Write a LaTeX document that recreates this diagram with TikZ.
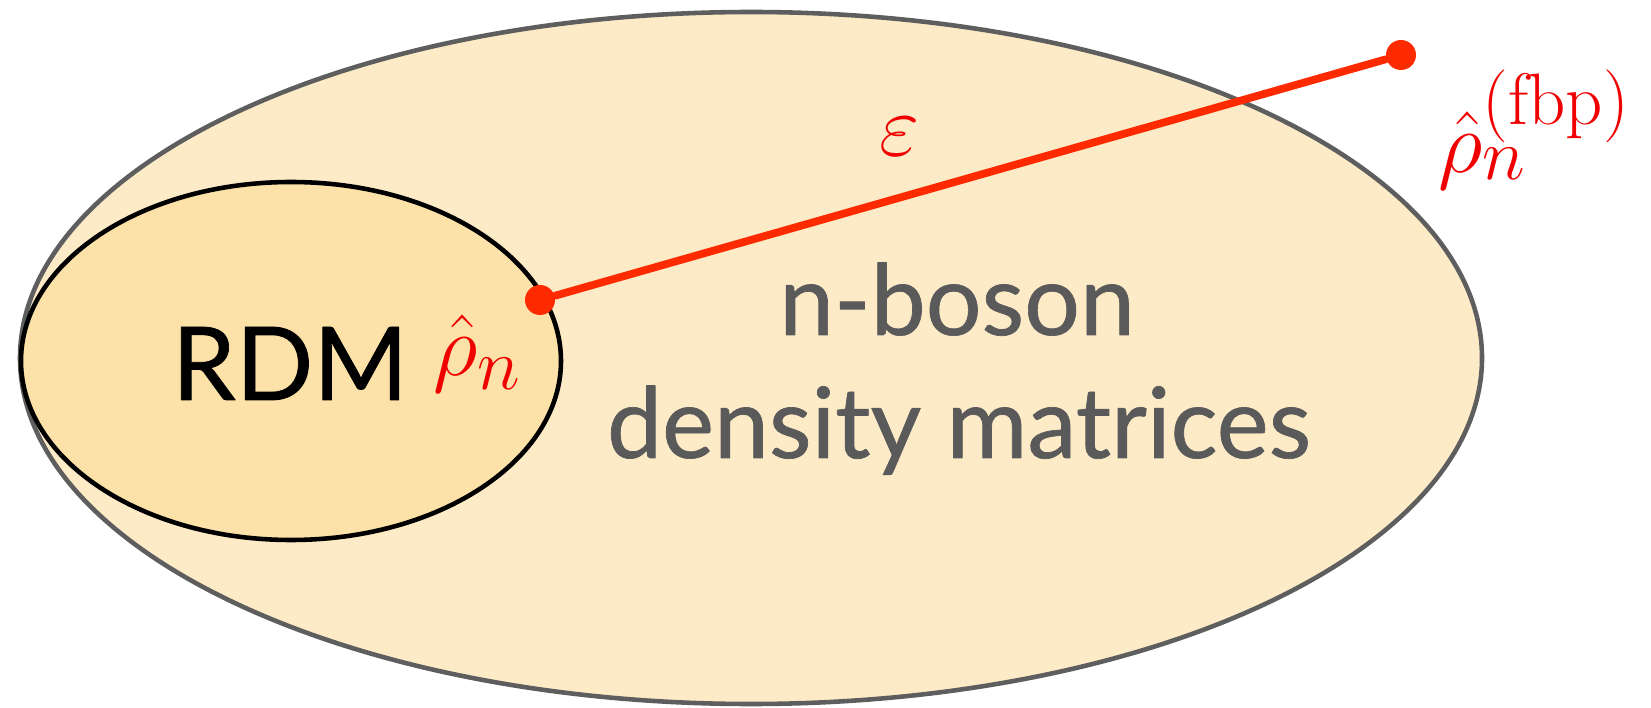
\documentclass[tikz,border=0pt]{standalone}
\usepackage[no-math]{fontspec}
\setmainfont{Lato}
\newfontfamily\setfont[FakeBold=0.7]{Lato}
\usetikzlibrary{calc,positioning}
\definecolor{setfill}{HTML}{FDEBC8}
\definecolor{setdraw}{HTML}{5E5E5E}
\definecolor{rdmfill}{HTML}{FCE2A8}
\definecolor{pathred}{HTML}{FF2A00}
\definecolor{mathred}{HTML}{F00000}
\definecolor{labelgray}{HTML}{5A5A5A}
\tikzset{
  outerset/.style={fill=setfill, draw=setdraw, line width=1.3pt},
  innerset/.style={fill=rdmfill, draw=black, line width=1.3pt},
  distline/.style={pathred, line width=2.2pt},
  statedot/.style={circle, fill=pathred, inner sep=0pt, minimum size=0.30cm},
  setlabel/.style={inner sep=0pt, font=\setfont\fontsize{28}{33}\selectfont, text=labelgray},
  mathlabel/.style={inner sep=0pt, text=mathred, font=\fontsize{30}{35}\selectfont},
}
\begin{document}
\begin{tikzpicture}[line cap=round, line join=round]
  \useasboundingbox (0,0) rectangle (16.51,7.07);

  % the two sets
  \draw[outerset] (7.51,3.49) ellipse [x radius=7.31, y radius=3.46];
  \draw[innerset] (2.91,3.46) ellipse [x radius=2.70, y radius=1.79];

  % labels of the sets
  \node[setlabel, text=black, font=\setfont\fontsize{29}{34}\selectfont, anchor=base] (rdm) at (2.90,3.07) {RDM};
  \node[setlabel, anchor=base] (nboson) at (9.57,3.72) {n-boson};
  \node[setlabel, anchor=base] (dmat) at (9.59,2.49) {density matrices};

  % states and distance
  \node[statedot] (rhon) at (5.40,4.07) {};
  \node[statedot] (rhofbp) at (14.01,6.52) {};
  \draw[distline] (rhon) -- (rhofbp);

  \node[mathlabel, anchor=base west] (rhonlabel) at (4.33,3.31) {$\hat\rho_n$};
  \node[mathlabel, font=\fontsize{32}{37}\selectfont, anchor=base west] (fbplabel) at (14.38,5.34) {$\hat\rho_n^{(\mathrm{fbp})}$};
  \node[mathlabel, font=\fontsize{31}{36}\selectfont] (eps) at (9.00,5.70) {$\varepsilon$};
\end{tikzpicture}
\end{document}
